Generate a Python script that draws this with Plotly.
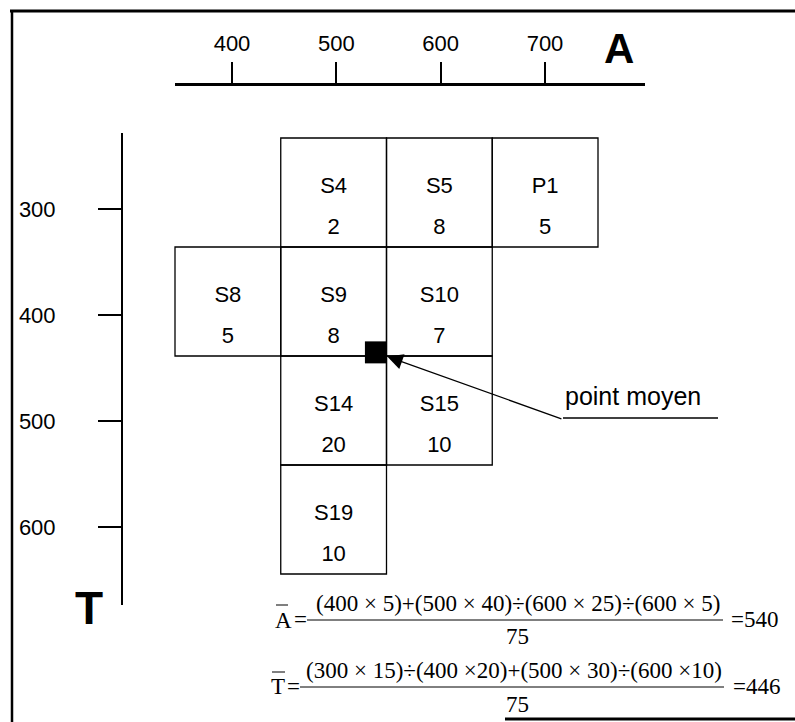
import plotly.graph_objects as go

W, H = 795, 722

# cells of the grid: name, centre on A, centre on T, count
CELL_NAMES = ["S4", "S5", "P1", "S8", "S9", "S10", "S14", "S15", "S19"]
CELL_A = [500, 600, 700, 400, 500, 600, 500, 600, 500]
CELL_T = [300, 300, 300, 400, 400, 400, 500, 500, 600]
CELL_COUNTS = [2, 8, 5, 5, 8, 7, 20, 10, 10]

A_TICKS = [400, 500, 600, 700]
T_TICKS = [300, 400, 500, 600]

FORMULA_A_NUM = "(400 × 5)+(500 × 40)÷(600 × 25)÷(600 × 5)"
FORMULA_T_NUM = "(300 × 15)÷(400 ×20)+(500 × 30)÷(600 ×10)"
FORMULA_DEN = "75"
A_RESULT = "=540"
T_RESULT = "=446"

CELL = 100  # cell size in axis units

total = sum(CELL_COUNTS)
mean_a = sum(a * n for a, n in zip(CELL_A, CELL_COUNTS)) / total
mean_t = sum(t * n for t, n in zip(CELL_T, CELL_COUNTS)) / total

SANS = "Liberation Sans, Arial, sans-serif"
SERIF = "Liberation Serif, Times New Roman, serif"


def px(x):
    return x / W


def py(y):
    return 1 - y / H


def span(v0, p0, v1, p1, start, end):
    """Axis values at pixel `start` and `end` for a linear scale through two anchors."""
    s = (v1 - v0) / (p1 - p0)
    return [v0 + (start - p0) * s, v0 + (end - p0) * s]


fig = go.Figure()

# grid cells
for a, t in zip(CELL_A, CELL_T):
    fig.add_shape(
        type="rect", xref="x", yref="y",
        x0=a - CELL / 2, x1=a + CELL / 2, y0=t - CELL / 2, y1=t + CELL / 2,
        line=dict(color="black", width=1.3), fillcolor="rgba(0,0,0,0)",
    )

fig.add_trace(go.Scatter(
    x=CELL_A, y=[t - 5 for t in CELL_T], mode="text", text=CELL_NAMES,
    textfont=dict(family=SANS, size=22, color="black"), hoverinfo="skip",
))
fig.add_trace(go.Scatter(
    x=CELL_A, y=[t + 33 for t in CELL_T], mode="text",
    text=[str(n) for n in CELL_COUNTS],
    textfont=dict(family=SANS, size=22, color="black"), hoverinfo="skip",
))

# mean point
fig.add_trace(go.Scatter(
    x=[mean_a], y=[mean_t], mode="markers",
    marker=dict(symbol="square", size=22, color="black"), hoverinfo="skip",
))

# empty trace so the two ruler axes get drawn
fig.add_trace(go.Scatter(x=[], y=[], xaxis="x2", yaxis="y2", hoverinfo="skip"))

fig.add_annotation(
    x=mean_a, y=mean_t, xref="x", yref="y", text="",
    showarrow=True, arrowhead=2, arrowsize=2.4, arrowwidth=1.3,
    arrowcolor="black", standoff=12, ax=187, ay=67,
)

texts = [
    (633, 396, "point moyen", SANS, 25),
    (619, 48, "<b>A</b>", SANS, 42),
    (89, 608, "<b>T</b>", SANS, 46),
    # formula for A
    (283, 620, "A", SERIF, 23), (300, 619, "=", SERIF, 23),
    (518, 603, FORMULA_A_NUM, SERIF, 23), (517, 636, FORMULA_DEN, SERIF, 23),
    (754, 619, A_RESULT, SERIF, 23),
    # formula for T
    (278, 686, "T", SERIF, 23), (293, 686, "=", SERIF, 23),
    (514, 670, FORMULA_T_NUM, SERIF, 23), (517, 704, FORMULA_DEN, SERIF, 23),
    (756, 686, T_RESULT, SERIF, 23),
]
for x, y, txt, family, size in texts:
    fig.add_annotation(
        x=px(x), y=py(y), xref="paper", yref="paper", showarrow=False,
        xanchor="center", yanchor="middle", text=txt,
        font=dict(family=family, size=size, color="black"),
    )

lines = [
    # frame
    (10, 11, 795, 11, 3), (12, 10, 12, 722, 2.5), (505, 719, 795, 719, 3),
    # underline of the label
    (563, 418, 718, 418, 1.3),
    # fraction bars and overbars
    (307, 620, 723, 620, 1), (276, 605, 288, 605, 1),
    (300, 687, 724, 687, 1), (272, 672, 285, 672, 1),
]
for x0, y0, x1, y1, w in lines:
    fig.add_shape(type="line", xref="paper", yref="paper",
                  x0=px(x0), y0=py(y0), x1=px(x1), y1=py(y1),
                  line=dict(color="black", width=w))

fig.update_layout(
    width=W, height=H,
    margin=dict(l=0, r=0, t=0, b=0),
    paper_bgcolor="white", plot_bgcolor="rgba(0,0,0,0)",
    showlegend=False,
    xaxis=dict(range=span(350, 175, 750, 598, 0, W), visible=False, domain=[0, 1]),
    yaxis=dict(range=span(250, 138, 650, 574, H, 0), visible=False, domain=[0, 1]),
    xaxis2=dict(
        domain=[px(175), px(645)], range=span(400, 232, 700, 545, 175, 645),
        anchor="free", position=py(84), side="top",
        tickvals=A_TICKS, ticks="outside", ticklen=21, tickwidth=1.5,
        tickcolor="black", ticklabelstandoff=2,
        showline=True, linewidth=2.5, linecolor="black",
        showgrid=False, zeroline=False,
        tickfont=dict(family=SANS, size=22, color="black"),
    ),
    yaxis2=dict(
        domain=[py(605), py(133)], range=span(300, 209, 600, 527, 605, 133),
        anchor="free", position=px(122), side="left",
        tickvals=T_TICKS, ticks="outside", ticklen=23, tickwidth=1.5,
        tickcolor="black", ticklabelstandoff=38,
        showline=True, linewidth=2, linecolor="black",
        showgrid=False, zeroline=False,
        tickfont=dict(family=SANS, size=22, color="black"),
    ),
)

fig.write_html(
    "out.html",
    config={"displayModeBar": False},
    post_script="document.body.style.margin = '0px';",
)
